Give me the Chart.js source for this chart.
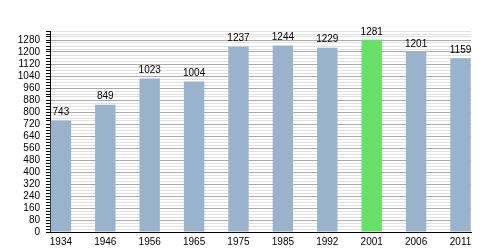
<!DOCTYPE html>
<html>
<head>
<meta charset="utf-8">
<script src="https://cdn.jsdelivr.net/npm/chart.js@4/dist/chart.umd.min.js"></script>
<style>
  html, body { margin: 0; padding: 0; background: #fff; }
  #wrap { width: 500px; height: 250px; }
</style>
</head>
<body>
<div id="wrap"><canvas id="chart"></canvas></div>
<script>
  const years = ["1934", "1946", "1956", "1965", "1975", "1985", "1992", "2001", "2006", "2011"];
  const population = [743, 849, 1023, 1004, 1237, 1244, 1229, 1281, 1201, 1159];
  const highlightYear = "2001";
  const yMax = 1340;
  const yStep = 20;
  const yLabelStep = 80;

  const FONT = "'Liberation Sans', Arial, sans-serif";

  const valueLabels = {
    id: "valueLabels",
    afterDatasetsDraw(chart) {
      const ctx = chart.ctx;
      const meta = chart.getDatasetMeta(0);
      ctx.save();
      ctx.font = "10px " + FONT;
      ctx.fillStyle = "#000";
      ctx.textAlign = "center";
      ctx.textBaseline = "bottom";
      meta.data.forEach((bar, i) => {
        ctx.fillText(String(population[i]), bar.x, bar.y - 3);
      });
      ctx.restore();
    }
  };

  new Chart(document.getElementById("chart"), {
    type: "bar",
    data: {
      datasets: [{
        data: population.map((v, i) => ({ x: i, y: v })),
        backgroundColor: years.map(y => y === highlightYear ? "#66e066" : "#9ab3cc"),
        barPercentage: 0.46,
        categoryPercentage: 1
      }]
    },
    options: {
      responsive: true,
      maintainAspectRatio: false,
      animation: false,
      layout: { padding: { top: 31, right: 29, left: 0, bottom: 0 } },
      plugins: {
        legend: { display: false },
        tooltip: { enabled: false }
      },
      scales: {
        x: {
          type: "linear",
          offset: false,
          min: -0.245,
          max: 9.236,
          afterBuildTicks: s => { s.ticks = years.map((_, i) => ({ value: i })); },
          afterFit: s => { s.height = 18; },
          grid: { display: false, drawTicks: false, offset: false },
          border: { display: true, color: "#000", width: 1 },
          ticks: {
            autoSkip: false,
            maxRotation: 0,
            padding: 4,
            color: "#000",
            font: { family: FONT, size: 10 },
            callback: v => years[v]
          }
        },
        y: {
          min: 0,
          max: yMax,
          afterFit: s => { s.width = 50; },
          afterBuildTicks: s => {
            const t = [];
            for (let v = 0; v <= yMax; v += yStep) t.push({ value: v });
            s.ticks = t;
          },
          grid: {
            color: c => (c.tick && c.tick.value % yLabelStep === 0) ? "#aaaaaa" : "#e0e0e0",
            tickColor: "#000",
            tickLength: 4,
            lineWidth: 1
          },
          border: { display: true, color: "#000", width: 1 },
          ticks: {
            autoSkip: false,
            padding: 6,
            color: "#000",
            font: { family: FONT, size: 10 },
            callback: v => v % yLabelStep === 0 ? String(v) : ""
          }
        }
      }
    },
    plugins: [valueLabels]
  });
</script>
</body>
</html>
